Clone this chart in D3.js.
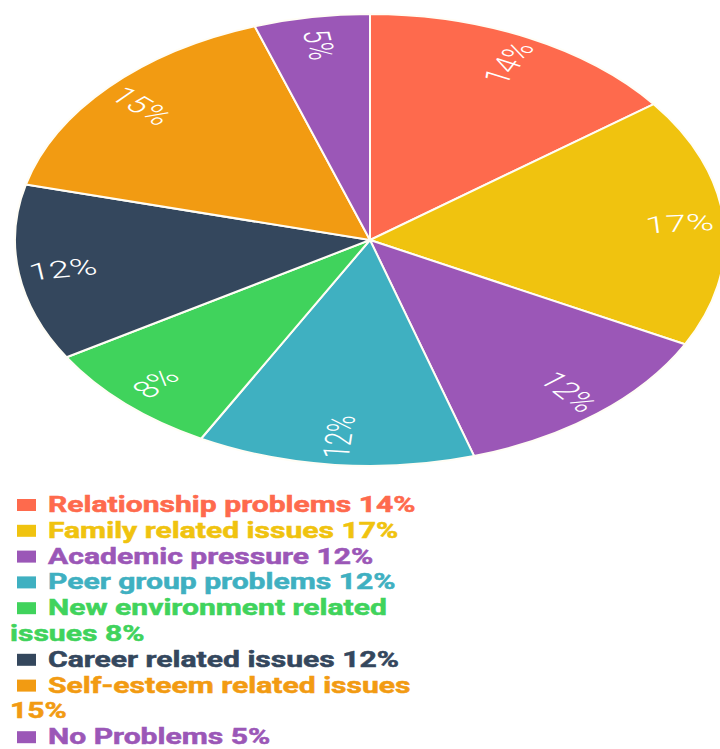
<!DOCTYPE html>
<html>
<head>
<meta charset="utf-8">
<script src="https://cdn.jsdelivr.net/npm/d3@7"></script>
<style>
  html, body { margin: 0; padding: 0; background: #ffffff; }
  svg { display: block; }
</style>
</head>
<body>
<svg id="chart" width="720" height="749"></svg>
<script>
// Reasons reported, share of respondents (%)
const categories = [
  "Relationship problems",
  "Family related issues",
  "Academic pressure",
  "Peer group problems",
  "New environment related issues",
  "Career related issues",
  "Self-esteem related issues",
  "No Problems"
];
const values = [14, 17, 12, 12, 8, 12, 15, 5];
const colors = ["#fe6a4d", "#f0c30f", "#9b57b7", "#3fb0c1", "#40d35c", "#34475d", "#f29b12", "#9b57b7"];

const svg = d3.select("#chart");

// Pie is drawn as a circle, then stretched into a wide ellipse
const R = 226;
const cx = 370, cy = 240;
const stretchX = 355 / R;

const pie = d3.pie().sort(null).value(d => d)(values);
const arc = d3.arc().innerRadius(0).outerRadius(R);

const g = svg.append("g")
  .attr("transform", `translate(${cx},${cy}) scale(${stretchX},1)`);

g.selectAll("path.slice")
  .data(pie)
  .join("path")
  .attr("class", "slice")
  .attr("d", arc)
  .attr("fill", (d, i) => colors[i])
  .attr("stroke", "#fffdf5")
  .attr("stroke-width", 2)
  .attr("vector-effect", "non-scaling-stroke");

// Radial percentage labels: outward on the right half, inward on the left
const labelR = R * 0.875;
g.selectAll("text.pct")
  .data(pie)
  .join("text")
  .attr("class", "pct")
  .attr("transform", d => {
    const a = (d.startAngle + d.endAngle) / 2;
    const x = Math.sin(a) * labelR;
    const y = -Math.cos(a) * labelR;
    const deg = a * 180 / Math.PI;
    const rot = deg < 180 ? deg - 90 : deg + 90;
    return `translate(${x},${y}) rotate(${rot})`;
  })
  .attr("text-anchor", "middle")
  .attr("dominant-baseline", "central")
  .attr("fill", "#ffffff")
  .style("font-family", "Roboto, 'Open Sans', sans-serif")
  .style("font-weight", 300)
  .style("font-size", "23.5px")
  .text(d => d.data + "%");

// Legend: colored square + label, wrapped to a fixed width
const legendX = 17, textX = 48, wrapX = 10;
const firstBaseline = 512, lineStep = 25.8;
const legendStretch = 1.4;
const maxRight = 426;

const legend = svg.append("g").attr("class", "legend");
const measure = legend.append("text")
  .style("font-family", "Roboto, 'Open Sans', sans-serif")
  .style("font-weight", 700)
  .style("font-size", "21.5px")
  .attr("visibility", "hidden");
const textWidth = s => measure.text(s).node().getComputedTextLength() * legendStretch;

let line = 0;
categories.forEach((name, i) => {
  const words = (name + " " + values[i] + "%").split(" ");
  const lines = [];
  let cur = "";
  let startX = textX;
  words.forEach(w => {
    const test = cur ? cur + " " + w : w;
    if (cur && startX + textWidth(test) > maxRight) {
      lines.push({ text: cur, x: startX });
      cur = w;
      startX = wrapX;
    } else {
      cur = test;
    }
  });
  lines.push({ text: cur, x: startX });

  const base = firstBaseline + line * lineStep;
  legend.append("rect")
    .attr("x", legendX)
    .attr("y", base - 13)
    .attr("width", 19)
    .attr("height", 12)
    .attr("fill", colors[i]);

  lines.forEach((l, k) => {
    legend.append("text")
      .attr("transform", `translate(${l.x},${firstBaseline + (line + k) * lineStep}) scale(${legendStretch},1)`)
      .attr("fill", colors[i])
      .attr("stroke", colors[i])
      .attr("stroke-width", 0.5)
      .style("font-family", "Roboto, 'Open Sans', sans-serif")
      .style("font-weight", 700)
      .style("font-size", "21.5px")
      .text(l.text);
  });
  line += lines.length;
});
measure.remove();
</script>
</body>
</html>
